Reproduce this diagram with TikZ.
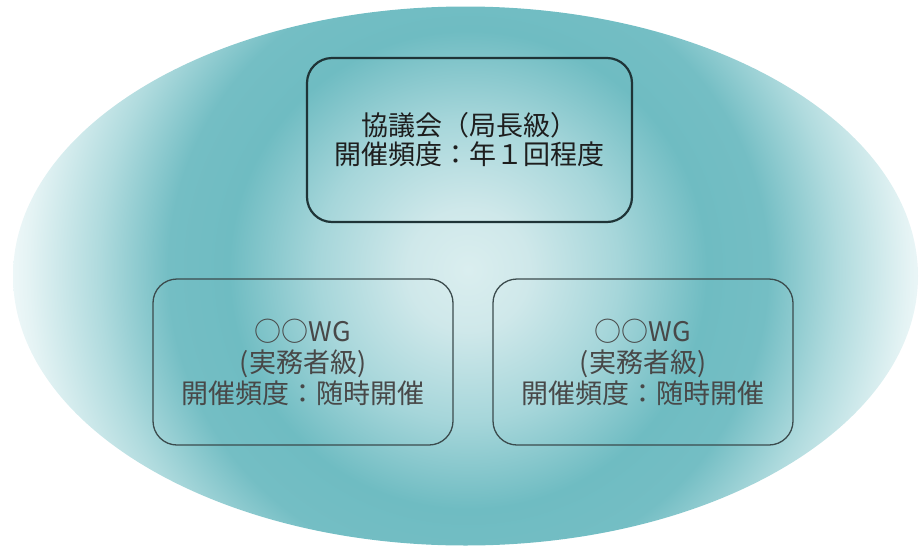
\documentclass[tikz,border=0pt]{standalone}
\usepackage{fontspec}
\setmainfont{Noto Sans CJK JP}
\definecolor{cCenter}{HTML}{DAEEEF}
\definecolor{cOne}{HTML}{CFE8EA}
\definecolor{cTwo}{HTML}{A6D6DA}
\definecolor{cTeal}{HTML}{6FBCC2}
\definecolor{cTealB}{HTML}{74BEC4}
\definecolor{cThree}{HTML}{B0DBDE}
\definecolor{cFour}{HTML}{E4F3F4}
\definecolor{cFive}{HTML}{F0F8F9}
\definecolor{cTopLine}{HTML}{1F3437}
\definecolor{cWGLine}{HTML}{3B4B4D}
\definecolor{cTopTxt}{HTML}{1E1E1E}
\definecolor{cWGTxt}{HTML}{484848}
\pgfdeclareradialshading{ringteal}{\pgfpoint{0bp}{0bp}}{%
color(0bp)=(cCenter); color(3.3bp)=(cOne); color(8.2bp)=(cTwo); color(13bp)=(cTeal); color(16.3bp)=(cTealB); color(20.1bp)=(cThree); color(23.9bp)=(cFour); color(25bp)=(cFive); color(50bp)=(cFive)}
\tikzset{
  topbox/.style={draw=cTopLine, line width=2.2pt, rounded corners=25pt,
    minimum width=325pt, minimum height=164pt, align=center, text=cTopTxt,
    font=\fontsize{27}{29}\selectfont, inner sep=0pt},
  wgbox/.style={draw=cWGLine, line width=1.3pt, rounded corners=24pt,
    minimum width=300pt, minimum height=166pt, align=center, text=cWGTxt,
    font=\fontsize{27}{31}\selectfont, inner sep=0pt}
}
\begin{document}
\begin{tikzpicture}[x=1pt,y=-1pt]
\useasboundingbox (0,0) rectangle (922,547);
\begin{scope}
  \clip (465.5,276) ellipse [x radius=452.5pt, y radius=269.5pt];
  \shade[shading=ringteal] (8,-190) rectangle (928,730);
\end{scope}
\node[topbox] (kyogikai) at (469.5,140) {協議会（局長級）\\開催頻度：年１回程度};
\node[wgbox] (wgleft) at (303,362) {○○WG\\(実務者級)\\開催頻度：随時開催};
\node[wgbox] (wgright) at (643,362) {○○WG\\(実務者級)\\開催頻度：随時開催};
\end{tikzpicture}
\end{document}
